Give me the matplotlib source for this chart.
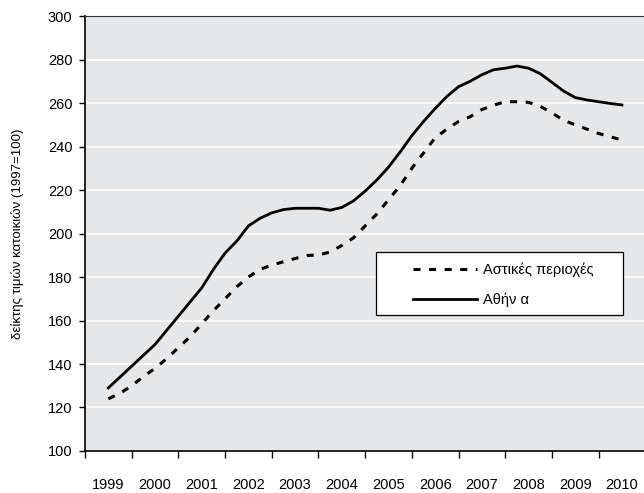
import matplotlib
matplotlib.use("Agg")
import matplotlib.pyplot as plt
from matplotlib.patches import Rectangle
import numpy as np

# Trimestres 1999Q1 .. 2010Q1
periodes = np.arange(45) * 0.25 + 1999.0

athina = [129, 134, 139, 144, 149, 155.5, 162, 168.5, 175, 183.5, 191, 196.5,
          203.5, 207, 209.5, 211, 211.6, 211.6, 211.6, 210.7, 212, 215, 219.5,
          224.6, 230.5, 237.5, 245, 251.5, 257.5, 263, 267.5, 270, 273, 275.3,
          276, 277, 276, 273.5, 269.5, 265.5, 262.5, 261.4, 260.6, 259.8, 259.1]

astikes = [124, 126.5, 130, 134.2, 138, 142.5, 147.5, 152.5, 158.5, 164.5, 170,
           175.5, 180, 183.5, 185.5, 187, 188.5, 189.9, 190.1, 191.5, 194.5, 198,
           203.5, 209, 215.5, 222, 230, 237, 244, 248, 251.5, 253.7, 257, 259,
           260.6, 260.6, 260.3, 258.5, 255.5, 252, 250, 248, 246, 244.5, 243]

annees = list(range(1999, 2011))

plt.rcParams["font.family"] = ["Liberation Sans", "DejaVu Sans"]

fig = plt.figure(figsize=(6.44, 4.93), dpi=100)
ax = fig.add_axes([0.132, 0.0852, 0.87, 0.8823])
ax.set_facecolor("#e6e7e9")

ax.plot(periodes, astikes, color="black", lw=2.2, dashes=(2.3, 2.8),
        label="Αστικές περιοχές")
ax.plot(periodes, athina, color="black", lw=2.0, label="Αθήν α")

ax.set_ylim(100, 300)
ax.set_yticks(range(100, 301, 20))
ax.set_xlim(1998.5, 2010.5)
ax.set_xticks([a - 0.5 for a in annees] + [2010.5])
ax.set_xticklabels([])
ax.set_xticks(annees, minor=True)
ax.set_xticklabels([str(a) for a in annees], minor=True)
ax.tick_params(axis="x", which="major", direction="out", length=5, width=1)
ax.tick_params(axis="x", which="minor", length=0, pad=19.5, labelsize=10.5)
ax.tick_params(axis="y", direction="out", length=4, width=1, labelsize=10.5, pad=5)

ax.yaxis.grid(True, color="white", lw=1.2)
ax.set_axisbelow(True)
for s in ["left", "bottom"]:
    ax.spines[s].set_linewidth(1.2)
ax.spines["top"].set_color("#333333")
ax.spines["right"].set_visible(False)

ax.set_ylabel("δείκτης τιμών κατοικιών (1997=100)", fontsize=9.5, labelpad=17)

# cadre de la légende
cadre = Rectangle((0.52, 0.3126), 0.441, 0.1448, transform=ax.transAxes,
                  facecolor="white", edgecolor="black", lw=0.9, zorder=4)
ax.add_patch(cadre)
leg = ax.legend(loc="center left", bbox_to_anchor=(0.572, 0.3816), frameon=False,
                fontsize=10.5, handlelength=4.4, handletextpad=0.4, borderpad=0,
                labelspacing=1.05)
leg.set_zorder(5)

fig.savefig("out.png", dpi=100)
